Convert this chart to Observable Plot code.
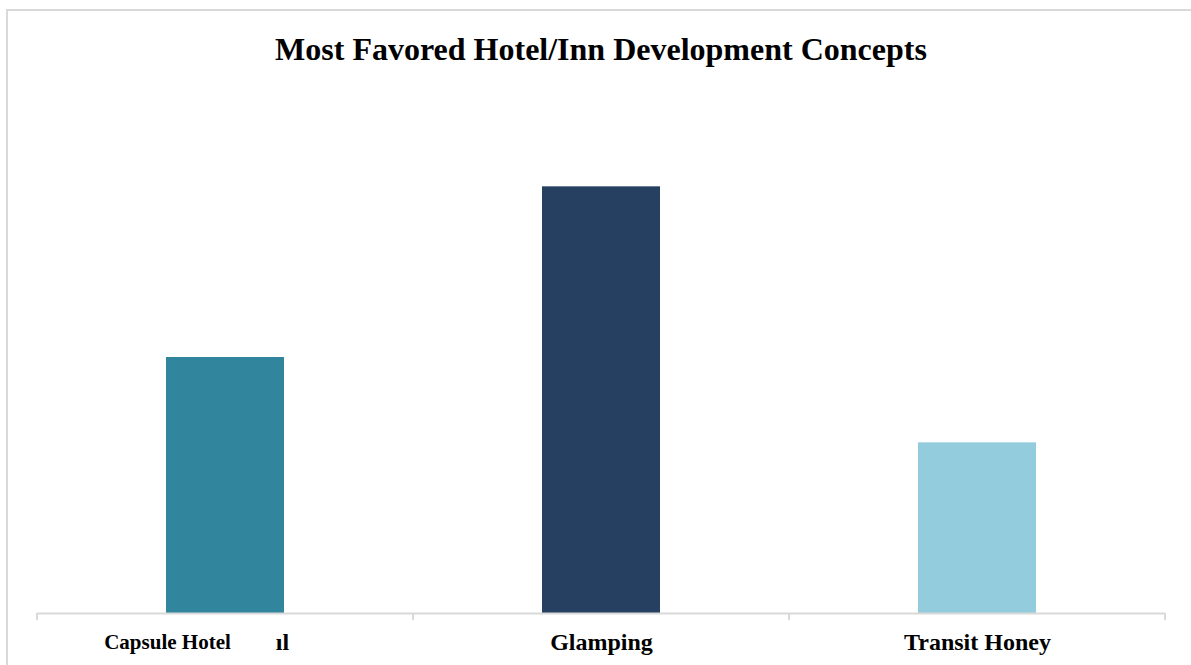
<!DOCTYPE html>
<html>
<head>
<meta charset="utf-8">
<script src="https://cdn.jsdelivr.net/npm/d3@7"></script>
<script src="https://cdn.jsdelivr.net/npm/@observablehq/plot@0.6"></script>
<style>
  html, body { margin: 0; padding: 0; background: #fff; width: 1191px; height: 665px; overflow: hidden; }
  #frame { position: absolute; left: 6px; top: 9px; width: 1200px; height: 700px;
           border-left: 2px solid #d9d9d9; border-top: 2px solid #d9d9d9; }
  #title { position: absolute; left: 0; width: 1202px; top: 31px; text-align: center;
           font-family: "Liberation Serif", "Times New Roman", serif; font-weight: bold;
           font-size: 32px; color: #000; }
  #chart { position: absolute; left: 0; top: 0; }
</style>
</head>
<body>
<div id="frame"></div>
<div id="title">Most Favored Hotel/Inn Development Concepts</div>
<div id="chart"></div>
<script>
const categories = ["Capsule Hotel", "Glamping", "Transit Honey"];
const values = [30, 50, 20];
const colors = ["#31859c", "#254061", "#93cddd"];
const firstLabelTail = "ıl";

const data = categories.map((c, i) => ({category: c, value: values[i], color: colors[i]}));

const boundaryTicks = (index, scales, values, dimensions) => {
  const x = scales.x;
  const y = scales.y;
  const step = x.step();
  const gap = (step - x.bandwidth()) / 2;
  const y0 = y(0);
  const g = d3.create("svg:g");
  const xs = categories.map(c => x(c) - gap);
  xs.push(x(categories[categories.length - 1]) + x.bandwidth() + gap);
  g.append("line").attr("x1", xs[0]).attr("x2", xs[xs.length - 1])
    .attr("y1", y0 + 0.5).attr("y2", y0 + 0.5)
    .attr("stroke", "#d9d9d9").attr("stroke-width", 2);
  for (const xv of xs) {
    g.append("line").attr("x1", xv).attr("x2", xv)
      .attr("y1", y0).attr("y2", y0 + 7)
      .attr("stroke", "#d9d9d9").attr("stroke-width", 2);
  }
  return g.node();
};

const font = {fontFamily: "'Liberation Serif', 'Times New Roman', serif", fontWeight: "bold", fill: "#000"};

const chart = Plot.plot({
  width: 1191,
  height: 665,
  marginLeft: 37,
  marginRight: 26,
  marginTop: 101,
  marginBottom: 52,
  x: {domain: categories, paddingInner: 0.686, paddingOuter: 0.343, axis: null},
  y: {domain: [0, 60], axis: null},
  marks: [
    Plot.barY(data, {x: "category", y: "value", fill: "color"}),
    boundaryTicks,
    Plot.text(data.slice(1), {x: "category", y: 0, text: "category", dy: 29, fontSize: 24, ...font}),
    Plot.text(data.slice(0, 1), {x: "category", y: 0, text: "category", dy: 29, dx: -58, fontSize: 21, ...font}),
    Plot.text(data.slice(0, 1), {x: "category", y: 0, text: () => firstLabelTail, dy: 29, dx: 57, fontSize: 24, ...font})
  ]
});
document.getElementById("chart").appendChild(chart);
</script>
</body>
</html>
